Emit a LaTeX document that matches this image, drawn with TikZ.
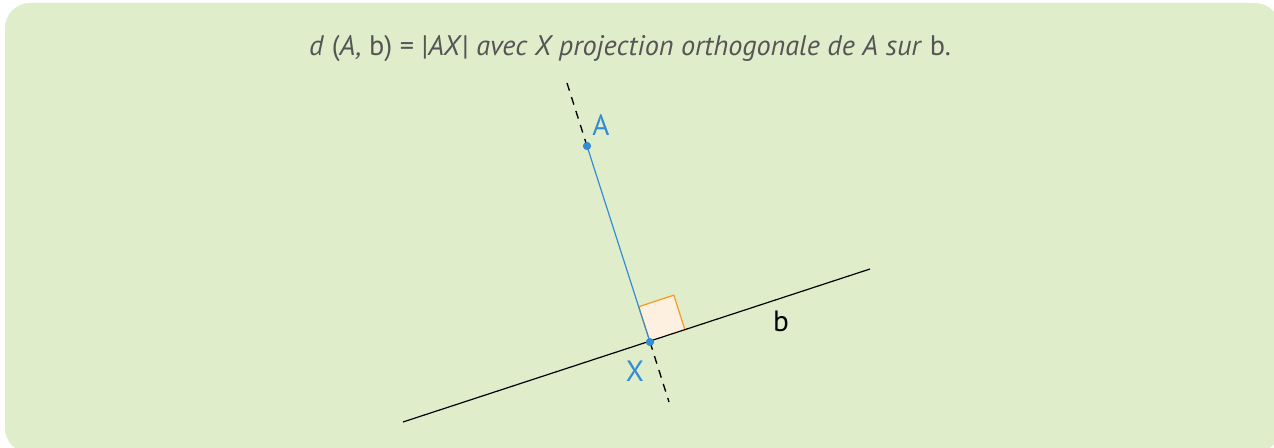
\documentclass[tikz,border=0pt]{standalone}
\usepackage{fontspec}
\setmainfont{PT Sans}
\usetikzlibrary{calc}

\definecolor{bgGreen}{RGB}{223,237,203}
\definecolor{ptBlue}{RGB}{52,140,212}
\definecolor{sqOrange}{RGB}{245,155,35}
\definecolor{sqFill}{RGB}{253,240,224}
\definecolor{txtGray}{RGB}{85,85,85}

\tikzset{
  ptdot/.style={circle,fill=ptBlue,inner sep=0pt,minimum size=6pt},
  ptlabel/.style={text=ptBlue,font=\fontsize{22}{24}\selectfont,inner sep=0.75pt},
  extdash/.style={dashed,dash pattern=on 6pt off 5pt,line width=1pt},
}

\begin{document}
\begin{tikzpicture}[x=0.75pt,y=0.75pt,yscale=-1,xscale=1]
%set diagram size to 1274 x 448
\useasboundingbox (0,0) rectangle (1274,448);

%Shape: Rounded Rect [id:bg]
\fill [bgGreen,rounded corners=18.75pt] (5,3) rectangle (1280,453);

%Points
\node [ptdot] (A) at (587,146) {};
\node [ptdot] (X) at (650,342) {};
\coordinate (bL) at (403,422);
\coordinate (bR) at (870,269);
\coordinate (dTop) at (567,83);
\coordinate (dBot) at (669,402);

%Shape: Right angle [id:sq]
\coordinate (sqA) at ($(X.center)!27.75pt!(A.center)$);
\coordinate (sqB) at ($(X.center)!27.75pt!(bR)$);
\draw [sqOrange,fill=sqFill,line width=0.9pt] (X.center) -- (sqA) -- ($(sqA)+(sqB)-(X.center)$) -- (sqB) ;

%Straight Lines [id:b]
\draw [line width=0.9pt] (bL) -- (bR) ;
%Straight Lines [id:AX]
\draw [ptBlue,line width=0.9pt] (A.center) -- (X.center) ;
%Dashed extensions
\draw [extdash] (dTop) -- (A.center) ;
\draw [extdash] (X.center) -- (dBot) ;
\node [ptdot] at (A) {};
\node [ptdot] at (X) {};

% Text Node
\node [ptlabel] (labA) at (601,125) {A};
% Text Node
\node [ptlabel] (labX) at (635,371) {X};
% Text Node
\node [inner sep=0.75pt,font=\fontsize{22}{24}\selectfont] (labb) at (781,321) {b};
% Text Node
\node [text=txtGray,inner sep=0.75pt,font=\fontsize{21.2}{24}\selectfont] (title) at (630,49) {\textit{d} (\textit{A,} b) = |\textit{AX}| \textit{avec X projection orthogonale de A sur} b.};

\end{tikzpicture}
\end{document}
